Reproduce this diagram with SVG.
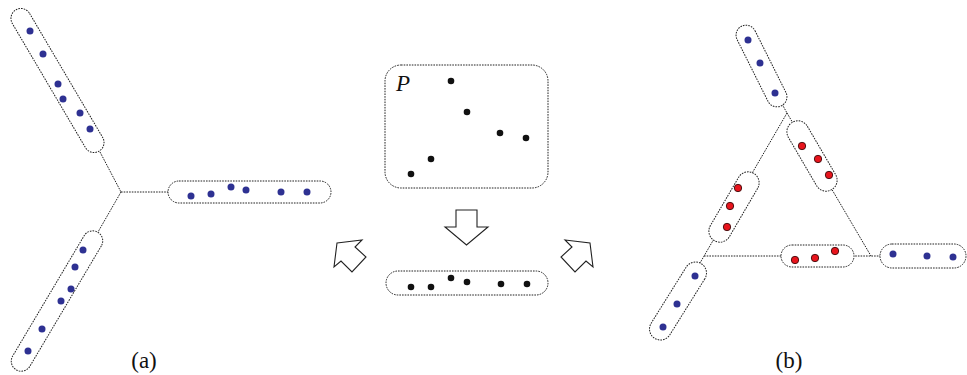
<svg xmlns="http://www.w3.org/2000/svg" width="967" height="375" viewBox="0 0 967 375">
<style>
.cap{fill:#fff;stroke:#222;stroke-width:1;stroke-dasharray:1.6 1.1}
.con{fill:none;stroke:#222;stroke-width:1;stroke-dasharray:1.6 1.1}
.b{fill:#2e3192}
.r{fill:#e8141c;stroke:#3a0a0a;stroke-width:0.9}
.k{fill:#111}
.arr{fill:#fff;stroke:#222;stroke-width:1.1;stroke-linejoin:miter}
.lbl{font-family:"Liberation Serif",serif;font-size:23px;fill:#111}
</style>
<rect width="967" height="375" fill="#fff"/>
<g id="connectors">
<line class="con" x1="100" y1="152" x2="121" y2="192"/>
<line class="con" x1="121" y1="192" x2="168" y2="192"/>
<line class="con" x1="121" y1="192" x2="98" y2="232"/>
<line class="con" x1="782" y1="104" x2="787" y2="113"/>
<line class="con" x1="787" y1="113" x2="871" y2="256"/>
<line class="con" x1="787" y1="113" x2="700" y2="263"/>
<line class="con" x1="704" y1="256" x2="880" y2="256"/>
</g>
<g id="a-top">
<rect class="cap" x="-82" y="-10" width="164" height="20" rx="10" transform="translate(57.5 80.5) rotate(59.5)"/>
<circle class="b" cx="30" cy="31" r="3.5"/><circle class="b" cx="43" cy="54" r="3.5"/><circle class="b" cx="58" cy="84" r="3.5"/><circle class="b" cx="63" cy="99" r="3.5"/><circle class="b" cx="80" cy="113" r="3.5"/><circle class="b" cx="90" cy="129" r="3.5"/>
</g>
<g id="a-right">
<rect class="cap" x="168" y="181" width="163" height="22" rx="11"/>
<circle class="b" cx="191" cy="196" r="3.5"/><circle class="b" cx="211" cy="194" r="3.5"/><circle class="b" cx="231" cy="187" r="3.5"/><circle class="b" cx="246" cy="190" r="3.5"/><circle class="b" cx="281" cy="192" r="3.5"/><circle class="b" cx="307" cy="192" r="3.5"/>
</g>
<g id="a-bottom">
<rect class="cap" x="-80" y="-10" width="160" height="20" rx="10" transform="translate(57 301) rotate(120.7)"/>
<circle class="b" cx="83" cy="250" r="3.5"/><circle class="b" cx="75" cy="267" r="3.5"/><circle class="b" cx="71" cy="289" r="3.5"/><circle class="b" cx="61" cy="301" r="3.5"/><circle class="b" cx="42" cy="329" r="3.5"/><circle class="b" cx="28" cy="351" r="3.5"/>
</g>
<text class="lbl" x="144" y="368" text-anchor="middle">(a)</text>
<g id="set-P">
<rect class="cap" x="385" y="65" width="163" height="123" rx="16"/>
<text class="lbl" x="396" y="91" font-style="italic" font-size="24">P</text>
<circle class="k" cx="451" cy="81" r="3.3"/><circle class="k" cx="467" cy="112" r="3.3"/><circle class="k" cx="500" cy="133" r="3.3"/><circle class="k" cx="526" cy="138" r="3.3"/><circle class="k" cx="431" cy="159" r="3.3"/><circle class="k" cx="411" cy="174" r="3.3"/>
</g>
<g id="arrow-down">
<polygon class="arr" points="456,210 477,210 477,227 488,227 466.5,245 445,227 456,227"/>
</g>
<g id="set-line">
<rect class="cap" x="386" y="271" width="162" height="24" rx="12"/>
<circle class="k" cx="411" cy="287" r="3.3"/><circle class="k" cx="431" cy="287" r="3.3"/><circle class="k" cx="451" cy="278" r="3.3"/><circle class="k" cx="467" cy="282" r="3.3"/><circle class="k" cx="501" cy="284" r="3.3"/><circle class="k" cx="527" cy="284" r="3.3"/>
</g>
<g id="arrow-left">
<polygon class="arr" points="337,243 362,240 355,247 366,257 352,272 341,261 334,267"/>
</g>
<g id="arrow-right">
<polygon class="arr" points="565,240 590,243 593,267 586,261 575,272 561,257 572,247"/>
</g>
<g id="b-top">
<rect class="cap" x="-44.5" y="-10" width="89" height="20" rx="10" transform="translate(761.5 66) rotate(63.4)"/>
<circle class="b" cx="748" cy="40" r="3.5"/><circle class="b" cx="760" cy="63" r="3.5"/><circle class="b" cx="775" cy="93" r="3.5"/>
</g>
<g id="b-red-right">
<rect class="cap" x="-39" y="-11" width="78" height="22" rx="11" transform="translate(812 156) rotate(59.7)"/>
<circle class="r" cx="802" cy="146" r="3.7"/><circle class="r" cx="818" cy="159" r="3.7"/><circle class="r" cx="829" cy="175" r="3.7"/>
</g>
<g id="b-red-left">
<rect class="cap" x="-39" y="-11" width="78" height="22" rx="11" transform="translate(734 207) rotate(120.3)"/>
<circle class="r" cx="738" cy="188" r="3.7"/><circle class="r" cx="730" cy="206" r="3.7"/><circle class="r" cx="727" cy="227" r="3.7"/>
</g>
<g id="b-red-bottom">
<rect class="cap" x="781" y="245" width="73" height="22" rx="11"/>
<circle class="r" cx="795" cy="260" r="3.7"/><circle class="r" cx="815" cy="258" r="3.7"/><circle class="r" cx="835" cy="251" r="3.7"/>
</g>
<g id="b-lowleft">
<rect class="cap" x="-44" y="-11" width="88" height="22" rx="11" transform="translate(678 301) rotate(122)"/>
<circle class="b" cx="695" cy="276" r="3.5"/><circle class="b" cx="677" cy="304" r="3.5"/><circle class="b" cx="663" cy="327" r="3.5"/>
</g>
<g id="b-right">
<rect class="cap" x="880" y="244" width="86" height="24" rx="12"/>
<circle class="b" cx="893" cy="254" r="3.5"/><circle class="b" cx="927" cy="256" r="3.5"/><circle class="b" cx="953" cy="257" r="3.5"/>
</g>
<text class="lbl" x="789" y="368" text-anchor="middle">(b)</text>
</svg>
